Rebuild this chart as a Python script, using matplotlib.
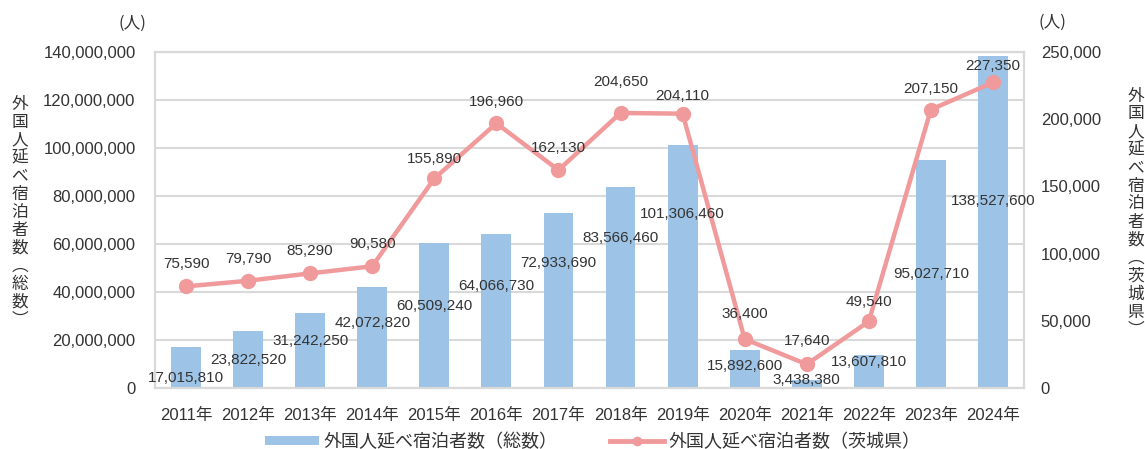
import matplotlib
matplotlib.use("Agg")
import matplotlib.pyplot as plt
from matplotlib.lines import Line2D
from matplotlib.patches import Patch

plt.rcParams['font.family'] = ['Liberation Sans', 'Noto Sans CJK JP', 'DejaVu Sans']

years = ["2011年", "2012年", "2013年", "2014年", "2015年", "2016年", "2017年",
         "2018年", "2019年", "2020年", "2021年", "2022年", "2023年", "2024年"]
total_stays = [17015810, 23822520, 31242250, 42072820, 60509240, 64066730, 72933690,
               83566460, 101306460, 15892600, 3438380, 13607810, 95027710, 138527600]
ibaraki_stays = [75590, 79790, 85290, 90580, 155890, 196960, 162130,
                 204650, 204110, 36400, 17640, 49540, 207150, 227350]

series_bar_name = "外国人延べ宿泊者数（総数）"
series_line_name = "外国人延べ宿泊者数（茨城県）"
left_ylabel = "外国人延べ宿泊者数︵総数︶"
right_ylabel = "外国人延べ宿泊者数︵茨城県︶"
unit_label = "(人)"

# label placement (layout only)
bar_label_y = [4.2e6, 11.7e6, 19.7e6, 27.0e6, 34.2e6, 42.5e6, 52.0e6,
               62.5e6, 72.5e6, 9.2e6, 3.3e6, 10.8e6, 47.5e6, 78.0e6]
line_label_dy = [16, 16, 16, 16, 14, 15, 16, 22, 13, 18, 17, 14, 15, 12]

bar_color = "#9DC3E6"
line_color = "#F09A9C"
text_color = "#333333"
grid_color = "#D9D9D9"

fig = plt.figure(figsize=(11.45, 4.49), dpi=100)
ax = fig.add_axes([155/1145, 1-388/449, (1024-155)/1145, (388-52)/449])
ax2 = ax.twinx()

x = list(range(len(years)))
ax.bar(x, total_stays, width=0.48, color=bar_color, zorder=2)
ax.set_ylim(0, 140e6)
ax.set_xlim(-0.5, len(years) - 0.5)
ax.set_yticks([i * 20e6 for i in range(8)])
ax.set_yticklabels([f"{int(v):,}" for v in ax.get_yticks()])
ax.yaxis.grid(True, color=grid_color, lw=1.5, zorder=0)
ax.set_axisbelow(True)
ax.set_xticks(x)
ax.set_xticklabels(years)
ax.tick_params(axis='both', length=0, labelsize=12, colors=text_color)
ax.tick_params(axis='y', pad=14)
ax.tick_params(axis='x', pad=14)

ax2.plot(x, ibaraki_stays, color=line_color, lw=3.2, marker='o', ms=10, zorder=3)
ax2.set_ylim(0, 250000)
ax2.set_yticks([i * 50000 for i in range(6)])
ax2.set_yticklabels([f"{int(v):,}" for v in ax2.get_yticks()])
ax2.tick_params(axis='y', length=0, labelsize=12, colors=text_color, pad=12)

for a in (ax, ax2):
    for s in a.spines.values():
        s.set_color(grid_color)
        s.set_linewidth(1.5)

for xi, v, ly in zip(x, total_stays, bar_label_y):
    ax2.text(xi, ly, f"{v:,}", transform=ax.transData, ha='center', va='center',
             fontsize=11, color=text_color, zorder=5)

for xi, v, dy in zip(x, ibaraki_stays, line_label_dy):
    ax2.annotate(f"{v:,}", (xi, v), xytext=(0, dy), textcoords='offset points',
                 ha='center', va='center', fontsize=11, color=text_color, zorder=5)

cjk = ['Noto Sans CJK JP']
fig.text(132/1145, 1-23/449, unit_label, ha='center', va='center', fontsize=12,
         color=text_color, family=cjk)
fig.text(1052/1145, 1-22/449, unit_label, ha='center', va='center', fontsize=12,
         color=text_color, family=cjk)

def vertical(label, xpx, ytop_px, pitch):
    for i, ch in enumerate(label):
        fig.text(xpx/1145, 1-(ytop_px + i*pitch)/449, ch, ha='center', va='center',
                 fontsize=12, color=text_color, family=cjk)

vertical(left_ylabel, 20, 104, 18)
vertical(right_ylabel, 1136, 96, 18)

handles = [Patch(facecolor=bar_color, edgecolor='none'),
           Line2D([0], [0], color=line_color, lw=3.5, marker='o', ms=6)]
fig.legend(handles, [series_bar_name, series_line_name], loc='center',
           bbox_to_anchor=(593/1145, 1-442/449), ncol=2, frameon=False,
           handlelength=3.0, handleheight=0.45, handletextpad=0.25,
           columnspacing=2.9, prop={'family': cjk, 'size': 13},
           labelcolor=text_color, borderpad=0.1)

fig.savefig("out.png", dpi=100)
